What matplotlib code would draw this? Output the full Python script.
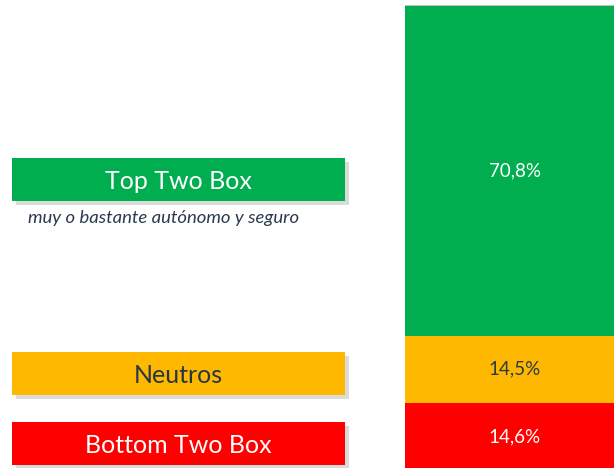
import matplotlib.pyplot as plt
from matplotlib.patches import Rectangle
import matplotlib.patheffects as pe

plt.rcParams['font.family'] = ['Lato', 'DejaVu Sans']

# data
categories = ['Bottom Two Box', 'Neutros', 'Top Two Box']
values = [14.6, 14.5, 70.8]
colors = ['#FF0000', '#FFB800', '#00AE50']
value_text_colors = ['white', '#2B3A48', 'white']
label_text_colors = ['white', '#253746', 'white']
subtitle = 'muy o bastante autónomo y seguro'

fig = plt.figure(figsize=(6.14, 4.68), dpi=100)

# stacked bar
ax = fig.add_axes([0, 0, 1, 1])
bottom = 0
for v, c, tc in zip(values, colors, value_text_colors):
    ax.bar(527, v, width=244, bottom=bottom, color=c, linewidth=0,
           path_effects=[pe.SimplePatchShadow(offset=(0, 1), shadow_rgbFace='#999999', alpha=0.6),
                         pe.Normal()])
    ax.text(515, bottom + v / 2, f'{v:.1f}%'.replace('.', ','), ha='center', va='center',
            color=tc, fontsize=13.5)
    bottom += v
ax.set_xlim(0, 614)
ax.set_ylim(0.64, 101.2)
ax.axis('off')

# label boxes, in pixel coordinates
lab = fig.add_axes([0, 0, 1, 1], facecolor='none')
lab.set_xlim(0, 614)
lab.set_ylim(468, 0)
lab.axis('off')

box_tops = [422, 352, 158]
box_h = 43
shadow = [pe.SimplePatchShadow(offset=(3, -3), shadow_rgbFace='#999999', alpha=0.35), pe.Normal()]
for name, c, tc, top in zip(categories, colors, label_text_colors, box_tops):
    r = Rectangle((12, top), 333, box_h, facecolor=c, edgecolor='none', path_effects=shadow)
    lab.add_patch(r)
    lab.text(178, top + box_h / 2 + 2, name, ha='center', va='center', color=tc, fontsize=18)

lab.text(28, 218, subtitle, ha='left', va='center', color='#2B3A4E', fontsize=13.3,
         style='italic')

fig.savefig('out.png', dpi=100)
